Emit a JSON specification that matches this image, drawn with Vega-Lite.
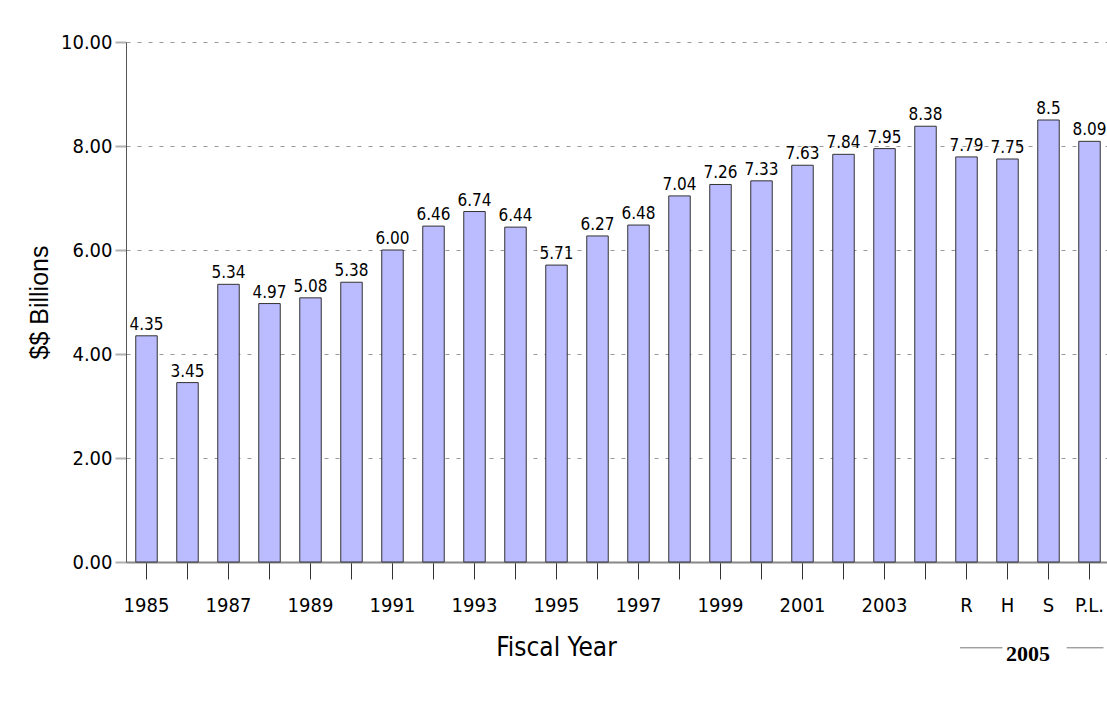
{
  "$schema": "https://vega.github.io/schema/vega-lite/v6.json",
  "autosize": {"type": "none"},
  "padding": {"left": 126, "top": 42, "right": 0, "bottom": 144},
  "width": 984,
  "height": 520,
  "background": "white",
  "config": {"view": {"stroke": null}},
  "layer": [
    {
      "data": {"values": [
        {"year": "1985", "value": 4.35, "label": "4.35"},
        {"year": "1986", "value": 3.45, "label": "3.45"},
        {"year": "1987", "value": 5.34, "label": "5.34"},
        {"year": "1988", "value": 4.97, "label": "4.97"},
        {"year": "1989", "value": 5.08, "label": "5.08"},
        {"year": "1990", "value": 5.38, "label": "5.38"},
        {"year": "1991", "value": 6.00, "label": "6.00"},
        {"year": "1992", "value": 6.46, "label": "6.46"},
        {"year": "1993", "value": 6.74, "label": "6.74"},
        {"year": "1994", "value": 6.44, "label": "6.44"},
        {"year": "1995", "value": 5.71, "label": "5.71"},
        {"year": "1996", "value": 6.27, "label": "6.27"},
        {"year": "1997", "value": 6.48, "label": "6.48"},
        {"year": "1998", "value": 7.04, "label": "7.04"},
        {"year": "1999", "value": 7.26, "label": "7.26"},
        {"year": "2000", "value": 7.33, "label": "7.33"},
        {"year": "2001", "value": 7.63, "label": "7.63"},
        {"year": "2002", "value": 7.84, "label": "7.84"},
        {"year": "2003", "value": 7.95, "label": "7.95"},
        {"year": "2004", "value": 8.38, "label": "8.38"},
        {"year": "R", "value": 7.79, "label": "7.79"},
        {"year": "H", "value": 7.75, "label": "7.75"},
        {"year": "S", "value": 8.5, "label": "8.5"},
        {"year": "P.L.", "value": 8.09, "label": "8.09"}
      ]},
      "encoding": {
        "x": {
          "field": "year",
          "type": "nominal",
          "sort": null,
          "scale": {
            "domain": ["1985", "1986", "1987", "1988", "1989", "1990", "1991", "1992", "1993", "1994", "1995", "1996", "1997", "1998", "1999", "2000", "2001", "2002", "2003", "2004", "R", "H", "S", "P.L."],
            "paddingInner": 0.476,
            "paddingOuter": 0.238
          },
          "axis": {
            "title": "Fiscal Year",
            "titleFont": "Liberation Sans Narrow, DejaVu Sans Condensed, sans-serif",
            "titleFontSize": 26,
            "titleFontWeight": "normal",
            "titleColor": "#000",
            "titleX": 430,
            "titleY": 93,
            "titleAlign": "center",
            "titleBaseline": "alphabetic",
            "labelAngle": 0,
            "labelFont": "Liberation Sans Narrow, DejaVu Sans Condensed, sans-serif",
            "labelFontSize": 20,
            "labelColor": "#000",
            "labelPadding": 16,
            "labelExpr": "indexof(['R','H','S','P.L.'], datum.value) >= 0 || toNumber(datum.value) % 2 == 1 ? datum.value : ''",
            "domainColor": "#888",
            "domainWidth": 2,
            "tickColor": "#333",
            "tickWidth": 1,
            "tickSize": 17,
            "grid": false
          }
        },
        "y": {
          "field": "value",
          "type": "quantitative",
          "scale": {"domain": [0, 10], "nice": false},
          "axis": {
            "title": "$$ Billions",
            "titleFont": "Liberation Sans, Arial, sans-serif",
            "titleFontSize": 25,
            "titleFontWeight": "normal",
            "titleColor": "#000",
            "titleAngle": -90,
            "titleX": -87,
            "titleY": 260,
            "titleAlign": "center",
            "titleBaseline": "middle",
            "values": [0, 2, 4, 6, 8, 10],
            "format": ".2f",
            "labelFont": "Liberation Sans Narrow, DejaVu Sans Condensed, sans-serif",
            "labelFontSize": 20,
            "labelColor": "#000",
            "labelPadding": 3,
            "domainColor": "#555",
            "domainWidth": 1,
            "tickColor": "#b0b0b0",
            "tickWidth": 2,
            "tickSize": 11,
            "grid": true,
            "gridColor": "#999",
            "gridDash": [4, 7],
            "gridWidth": 1
          }
        }
      },
      "layer": [
        {
          "mark": {"type": "bar", "fill": "#bbbbff", "stroke": "#333", "strokeWidth": 1}
        },
        {
          "mark": {
            "type": "text",
            "baseline": "alphabetic",
            "dy": -6,
            "font": "Liberation Sans Narrow, DejaVu Sans Condensed, sans-serif",
            "fontSize": 17,
            "fill": "#000"
          },
          "encoding": {"text": {"field": "label"}}
        }
      ]
    },
    {
      "data": {"values": [{"pos": "S", "group": "2005", "level": -1.9}]},
      "mark": {
        "type": "text",
        "baseline": "alphabetic",
        "align": "center",
        "font": "Liberation Serif, Times New Roman, serif",
        "fontWeight": "bold",
        "fontSize": 22,
        "fill": "#000",
        "clip": false
      },
      "encoding": {
        "x": {"field": "pos", "type": "nominal", "bandPosition": -0.45},
        "y": {"field": "level", "type": "quantitative"},
        "text": {"field": "group"}
      }
    },
    {
      "data": {"values": [{"from": "R", "to": "H", "level": -1.65}]},
      "mark": {"type": "rule", "stroke": "#777", "strokeWidth": 1, "clip": false, "x2Offset": -5},
      "encoding": {
        "x": {"field": "from", "type": "nominal", "bandPosition": 0.2},
        "x2": {"field": "to"},
        "y": {"field": "level", "type": "quantitative"}
      }
    },
    {
      "data": {"values": [{"from": "S", "to": "P.L.", "level": -1.65}]},
      "mark": {"type": "rule", "stroke": "#777", "strokeWidth": 1, "clip": false, "x2Offset": 14},
      "encoding": {
        "x": {"field": "from", "type": "nominal", "bandPosition": 1.35},
        "x2": {"field": "to"},
        "y": {"field": "level", "type": "quantitative"}
      }
    }
  ]
}
